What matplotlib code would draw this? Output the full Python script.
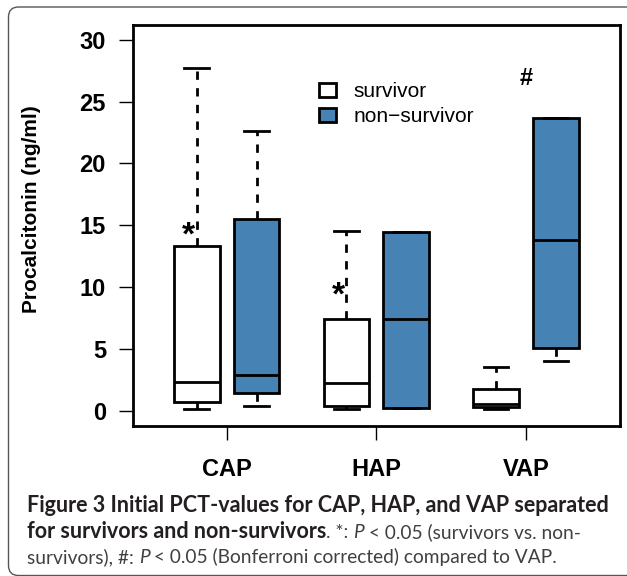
import matplotlib
matplotlib.use('Agg')
import matplotlib.pyplot as plt
from matplotlib.patches import Patch, FancyBboxPatch
from matplotlib.transforms import IdentityTransform

# box summaries (ng/ml)
groups = ["CAP", "HAP", "VAP"]
surv_whislo = [0.1, 0.1, 0.1]
surv_q1 = [0.7, 0.4, 0.3]
surv_med = [2.35, 2.2, 0.55]
surv_q3 = [13.3, 7.45, 1.75]
surv_whishi = [27.7, 14.55, 3.5]

non_whislo = [0.4, 0.2, 4.0]
non_q1 = [1.4, 0.22, 5.05]
non_med = [2.9, 7.4, 13.8]
non_q3 = [15.5, 14.45, 23.7]
non_whishi = [22.65, 14.45, 23.7]

yticks = [0, 5, 10, 15, 20, 25, 30]
legend_labels = ["survivor", "non\u2212survivor"]
blue = "#4682B4"

W, H = 627, 576
fig = plt.figure(figsize=(W / 100, H / 100), dpi=100)
ax = fig.add_axes([133 / W, 150 / H, 487 / W, 401 / H])


def stats(lo, q1, med, q3, hi):
    return [dict(whislo=a, q1=b, med=c, q3=d, whishi=e, fliers=[])
            for a, b, c, d, e in zip(lo, q1, med, q3, hi)]


pos = list(range(1, len(groups) + 1))
lw = 2.0
common = dict(widths=0.305, capwidths=0.165, patch_artist=True, manage_ticks=False,
              whiskerprops=dict(color="black", lw=lw, linestyle=(0, (3, 3))),
              capprops=dict(color="black", lw=lw),
              medianprops=dict(color="black", lw=lw))
ax.bxp(stats(surv_whislo, surv_q1, surv_med, surv_q3, surv_whishi),
       positions=[p - 0.2 for p in pos],
       boxprops=dict(facecolor="white", edgecolor="black", lw=lw), **common)
ax.bxp(stats(non_whislo, non_q1, non_med, non_q3, non_whishi),
       positions=[p + 0.2 for p in pos],
       boxprops=dict(facecolor=blue, edgecolor="black", lw=lw), **common)

ax.set_xlim(0.374, 3.628)
ax.set_ylim(-1.24, 31.2)
ax.set_yticks(yticks)
ax.set_xticks(pos)
ax.set_xticklabels(groups)
for s in ax.spines.values():
    s.set_linewidth(2)
ax.tick_params(axis="y", length=10, width=1, pad=9.5, labelsize=17)
ax.tick_params(axis="x", length=10, width=1, pad=13, labelsize=17)
for t in ax.get_xticklabels() + ax.get_yticklabels():
    t.set_fontweight("bold")
    t.set_family("Liberation Sans")

# significance marks
ax.text(0.743, 14.1, "*", ha="center", va="center", fontsize=24, fontweight="bold",
        family="Liberation Sans")
ax.text(1.746, 9.3, "*", ha="center", va="center", fontsize=24, fontweight="bold",
        family="Liberation Sans")
ax.text(3.0, 26.9, "#", ha="center", va="center", fontsize=17, fontweight="bold",
        family="Liberation Sans")

handles = [Patch(facecolor="white", edgecolor="black", lw=2),
           Patch(facecolor=blue, edgecolor="black", lw=2)]
fig.legend(handles, legend_labels, loc="upper left",
           bbox_to_anchor=(319 / W, 1 - 82 / H), frameon=False,
           prop=dict(family="Liberation Sans", size=15),
           handlelength=0.82, handleheight=0.65, handletextpad=0.85,
           labelspacing=0.3, borderpad=0, borderaxespad=0)

fig.text(32 / W, 1 - 209 / H, "Procalcitonin (ng/ml)", rotation=90,
         ha="center", va="center", fontsize=15, fontweight="bold",
         family="Liberation Sans")

# caption, drawn run by run
renderer = fig.canvas.get_renderer()
bold_size, reg_size = 15.5, 13.8
caption = [
    [("Figure 3 Initial PCT-values for CAP, HAP, and VAP separated", "bold", "normal")],
    [("for survivors and non-survivors", "bold", "normal"),
     (". *: ", "normal", "normal"), ("P", "normal", "italic"),
     (" < 0.05 (survivors vs. non-", "normal", "normal")],
    [("survivors), #: ", "normal", "normal"), ("P", "normal", "italic"),
     (" < 0.05 (Bonferroni corrected) compared to VAP.", "normal", "normal")],
]
baselines = [511.5, 538, 563]
for line, yb in zip(caption, baselines):
    x = 27
    for txt, weight, style in line:
        bold = weight == "bold"
        t = fig.text(x, H - yb, txt, transform=IdentityTransform(), ha="left",
                     va="baseline", fontsize=bold_size if bold else reg_size,
                     fontweight=weight, fontstyle=style, family="Lato",
                     color="#231f20" if bold else "#404040")
        x = t.get_window_extent(renderer).x1

border = FancyBboxPatch((8.5, 0.5), 640, H - 7.5, boxstyle="round,pad=0,rounding_size=10",
                        transform=IdentityTransform(), fill=False,
                        edgecolor="#555555", lw=1)
fig.add_artist(border)

fig.savefig("out.png", dpi=100)
